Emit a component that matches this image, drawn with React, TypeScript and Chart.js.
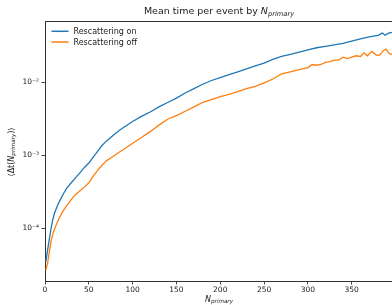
import React, { useEffect, useRef } from "react";
import { Chart, registerables } from "chart.js";

Chart.register(...registerables);

const TITLE_MAIN = "Mean time per event by ";
const TITLE_VAR = "N";
const TITLE_SUB = "primary";
const X_LABEL_VAR = "N";
const X_LABEL_SUB = "primary";
const Y_LABEL_PRE = "\u27E8\u0394t(";
const Y_LABEL_VAR = "N";
const Y_LABEL_SUB = "primary";
const Y_LABEL_POST = ")\u27E9";

const X_TICKS = [0, 50, 100, 150, 200, 250, 300, 350];
const Y_TICKS = [1e-4, 1e-3, 1e-2];
const Y_TICK_LABELS = ["10\u207B\u2074", "10\u207B\u00B3", "10\u207B\u00B2"];

const ON_LABEL = "Rescattering on";
const OFF_LABEL = "Rescattering off";

const N_ON = [
  1, 3, 5, 7, 9, 11, 13, 15, 18, 21, 25, 30, 35, 40, 45, 50, 55, 60, 65, 70, 75, 80, 85, 90,
  100, 110, 120, 130, 140, 150, 160, 170, 180, 190, 200, 210, 220, 230, 240, 250, 260, 270,
  280, 290, 300, 310, 320, 330, 340, 350, 360, 370, 380, 385, 388, 392, 396,
];
const T_ON = [
  3.47e-5, 5.01e-5, 7.08e-5, 1.0e-4, 1.32e-4, 1.62e-4, 1.86e-4, 2.14e-4, 2.51e-4, 2.95e-4,
  3.55e-4, 4.17e-4, 4.9e-4, 5.75e-4, 6.76e-4, 7.76e-4, 9.33e-4, 1.12e-3, 1.35e-3, 1.55e-3,
  1.74e-3, 1.95e-3, 2.19e-3, 2.4e-3,
  2.88e-3, 3.39e-3, 3.89e-3, 4.57e-3, 5.25e-3, 6.03e-3, 7.08e-3, 8.13e-3, 9.33e-3, 0.0105,
  0.0115, 0.0126, 0.0138, 0.0151, 0.0166, 0.0182, 0.0204, 0.0224, 0.024, 0.0257, 0.0275,
  0.0295, 0.0309, 0.0324, 0.0339, 0.0363, 0.0389, 0.0417, 0.0437, 0.0468, 0.0437, 0.0468,
  0.0479,
];

const N_OFF = [
  1, 3, 5, 7, 9, 11, 13, 16, 20, 25, 30, 34, 40, 46, 50, 55, 60, 65, 70, 75, 80, 85, 90,
  100, 110, 120, 130, 140, 150, 160, 170, 180, 190, 200, 210, 220, 230, 240, 250, 260, 270,
  280, 290, 300, 305, 310, 315, 320, 325, 330, 335, 340, 345, 350, 355, 360, 364, 368, 373,
  378, 382, 386, 389, 393, 396,
];
const T_OFF = [
  2.66e-5, 3.31e-5, 4.79e-5, 6.61e-5, 8.32e-5, 9.77e-5, 1.12e-4, 1.35e-4, 1.66e-4, 2.04e-4,
  2.45e-4, 2.82e-4, 3.24e-4, 3.72e-4, 4.17e-4, 5.13e-4, 6.17e-4, 7.24e-4, 8.32e-4, 9.12e-4,
  1.0e-3, 1.1e-3, 1.2e-3,
  1.45e-3, 1.74e-3, 2.09e-3, 2.57e-3, 3.09e-3, 3.47e-3, 3.98e-3, 4.57e-3, 5.25e-3, 5.75e-3,
  6.31e-3, 6.76e-3, 7.41e-3, 8.13e-3, 8.71e-3, 9.77e-3, 0.011, 0.0129, 0.0138, 0.0148,
  0.0158, 0.0174, 0.017, 0.0174, 0.0186, 0.0191, 0.02, 0.02, 0.0219, 0.0209, 0.0219, 0.0229,
  0.0224, 0.0251, 0.0229, 0.0263, 0.0234, 0.0234, 0.0269, 0.0282, 0.0245, 0.024,
];

const FONT = "'DejaVu Sans', sans-serif";
const TEXT_COLOR = "#1a1a1a";
const AXIS_COLOR = "#333333";

function drawSubText(
  ctx: CanvasRenderingContext2D,
  parts: { text: string; size: number; italic?: boolean; dy?: number }[],
  cx: number,
  cy: number
) {
  let total = 0;
  const widths = parts.map((p) => {
    ctx.font = `${p.italic ? "italic " : ""}${p.size}px ${FONT}`;
    const w = ctx.measureText(p.text).width;
    total += w;
    return w;
  });
  let x = cx - total / 2;
  parts.forEach((p, i) => {
    ctx.font = `${p.italic ? "italic " : ""}${p.size}px ${FONT}`;
    ctx.fillText(p.text, x, cy + (p.dy || 0));
    x += widths[i];
  });
}

const decorPlugin = {
  id: "decor",
  afterDraw(chart: any) {
    const ctx = chart.ctx as CanvasRenderingContext2D;
    const a = chart.chartArea;
    ctx.save();
    // top spine
    ctx.strokeStyle = AXIS_COLOR;
    ctx.lineWidth = 1;
    ctx.beginPath();
    ctx.moveTo(a.left, a.top + 0.5);
    ctx.lineTo(a.right, a.top + 0.5);
    ctx.stroke();

    ctx.fillStyle = TEXT_COLOR;
    ctx.textBaseline = "middle";
    ctx.textAlign = "left";
    // title
    drawSubText(
      ctx,
      [
        { text: TITLE_MAIN, size: 9.5 },
        { text: TITLE_VAR, size: 9.5, italic: true },
        { text: TITLE_SUB, size: 6.7, italic: true, dy: 2.2 },
      ],
      219,
      12
    );
    // x label
    drawSubText(
      ctx,
      [
        { text: X_LABEL_VAR, size: 8, italic: true },
        { text: X_LABEL_SUB, size: 5.6, italic: true, dy: 2 },
      ],
      219,
      299.5
    );
    // y label
    ctx.save();
    ctx.translate(12, 152);
    ctx.rotate(-Math.PI / 2);
    drawSubText(
      ctx,
      [
        { text: Y_LABEL_PRE, size: 8 },
        { text: Y_LABEL_VAR, size: 8, italic: true },
        { text: Y_LABEL_SUB, size: 5.6, italic: true, dy: 2 },
        { text: Y_LABEL_POST, size: 8 },
      ],
      0,
      0
    );
    ctx.restore();

    // legend
    const ds = chart.data.datasets;
    const rows = [31.3, 42];
    ds.forEach((d: any, i: number) => {
      const y = rows[i];
      ctx.strokeStyle = d.borderColor;
      ctx.lineWidth = 1.5;
      ctx.beginPath();
      ctx.moveTo(51.5, y);
      ctx.lineTo(68.5, y);
      ctx.stroke();
      ctx.fillStyle = TEXT_COLOR;
      ctx.font = `8px ${FONT}`;
      ctx.textAlign = "left";
      ctx.textBaseline = "middle";
      ctx.fillText(d.label, 73.5, y + 0.5);
    });
    ctx.restore();
  },
};

export default function App() {
  const ref = useRef<HTMLCanvasElement | null>(null);

  useEffect(() => {
    if (!ref.current) return;
    const chart = new Chart(ref.current, {
      type: "line",
      data: {
        datasets: [
          {
            label: ON_LABEL,
            data: N_ON.map((n, i) => ({ x: n, y: T_ON[i] })),
            borderColor: "#1f77b4",
            backgroundColor: "#1f77b4",
            borderWidth: 1.3,
            pointRadius: 0,
            tension: 0,
          },
          {
            label: OFF_LABEL,
            data: N_OFF.map((n, i) => ({ x: n, y: T_OFF[i] })),
            borderColor: "#ff7f0e",
            backgroundColor: "#ff7f0e",
            borderWidth: 1.3,
            pointRadius: 0,
            tension: 0,
          },
        ],
      },
      options: {
        responsive: false,
        animation: false,
        layout: { padding: { top: 21, right: 0, bottom: 0, left: 0 } },
        plugins: {
          legend: { display: false },
          title: { display: false },
          tooltip: { enabled: false },
        },
        scales: {
          x: {
            type: "linear",
            min: 0,
            max: 396,
            afterBuildTicks: (sc: any) => {
              sc.ticks = X_TICKS.map((v) => ({ value: v }));
            },
            afterFit: (sc: any) => {
              sc.height = 24;
            },
            grid: {
              drawOnChartArea: false,
              drawTicks: true,
              tickLength: 3.5,
              color: AXIS_COLOR,
              tickWidth: 0.9,
            },
            border: { display: true, color: AXIS_COLOR, width: 1 },
            ticks: {
              color: TEXT_COLOR,
              font: { family: FONT, size: 7.5 },
              padding: 1.5,
              maxRotation: 0,
              autoSkip: false,
              callback: (v: any) => String(v),
            },
          },
          y: {
            type: "logarithmic",
            min: 1.88e-5,
            max: 0.0686,
            afterBuildTicks: (sc: any) => {
              sc.ticks = Y_TICKS.map((v) => ({ value: v }));
            },
            afterFit: (sc: any) => {
              sc.width = 45;
            },
            grid: {
              drawOnChartArea: false,
              drawTicks: true,
              tickLength: 3.5,
              color: AXIS_COLOR,
              tickWidth: 0.9,
            },
            border: { display: true, color: AXIS_COLOR, width: 1 },
            ticks: {
              color: TEXT_COLOR,
              font: { family: FONT, size: 7.5 },
              padding: 2.5,
              autoSkip: false,
              callback: (v: any) => {
                const idx = Y_TICKS.findIndex((t) => Math.abs(t - v) / t < 1e-6);
                return idx >= 0 ? Y_TICK_LABELS[idx] : "";
              },
            },
          },
        },
      },
      plugins: [decorPlugin],
    });
    return () => chart.destroy();
  }, []);

  return (
    <div style={{ position: "fixed", left: 0, top: 0, width: 392, height: 305, background: "#fff" }}>
      <canvas ref={ref} width={392} height={305} style={{ width: 392, height: 305, display: "block" }} />
    </div>
  );
}
